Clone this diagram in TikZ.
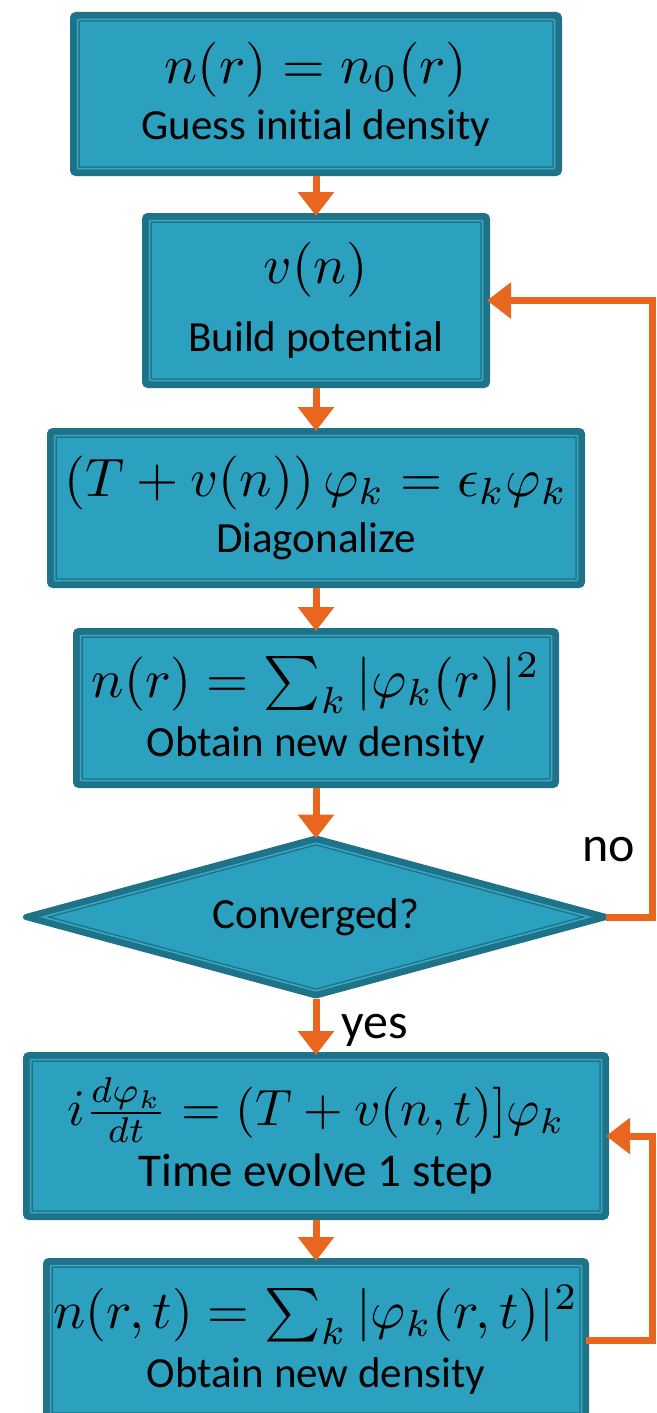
\documentclass[tikz,border=0pt]{standalone}
\usepackage{graphicx}
\usepackage{fontspec}
\setmainfont{Carlito}[Ligatures=NoCommon]
\usepackage{tikz}
\usetikzlibrary{positioning,arrows.meta,shapes.geometric}
\definecolor{boxfill}{HTML}{2CA1BF}
\definecolor{edge}{HTML}{1F7389}
\definecolor{ringline}{HTML}{3AA9C6}
\definecolor{flow}{HTML}{E9661E}
\newcommand{\eqn}[2][5.4]{\scalebox{#1}{\normalsize$#2$}}

\begin{document}
\begin{tikzpicture}[
    x=1pt, y=-1pt,
    block/.style={draw=edge, line width=6pt, fill=boxfill, rounded corners=3pt, inner sep=0pt, outer sep=0pt, align=center,
        font=\fontsize{43}{50}\selectfont,
        path picture={\draw[draw=edge, line width=1.5pt, double=ringline, double distance=1.5pt, rounded corners=1pt]
            ([shift={(4.5pt,-4.5pt)}]path picture bounding box.north west) rectangle
            ([shift={(-4.5pt,4.5pt)}]path picture bounding box.south east);}},
    decision/.style={diamond, aspect=3.7, draw=edge, line width=6pt, line join=round, fill=boxfill, inner sep=0pt, outer sep=0pt,
        minimum width=580pt, minimum height=157pt, font=\fontsize{43}{50}\selectfont,
        path picture={\draw[draw=edge, line width=1.5pt, double=ringline, double distance=1.5pt, line join=round]
            ([xshift=16.8pt]path picture bounding box.west) -- ([yshift=-4.7pt]path picture bounding box.north) --
            ([xshift=-16.8pt]path picture bounding box.east) -- ([yshift=4.7pt]path picture bounding box.south) -- cycle;}},
    arr/.style={draw=flow, line width=7pt, -{Triangle[width=35pt, length=24pt]}},
    lbl/.style={font=\fontsize{50}{60}\selectfont, inner sep=0pt}
]
    \useasboundingbox (0,0) rectangle (656,1413);

    \node[block, minimum width=486pt, minimum height=158pt] (guess) at (316,94) {\eqn[5.5]{n(r)=n_0(r)}\\[6pt]Guess initial density};
    \node[block, below=43pt of guess, minimum width=342pt, minimum height=169pt] (build) {\eqn[5.5]{v(n)}\\[18pt]Build potential};
    \node[block, below=46pt of build, minimum width=532pt, minimum height=154pt] (diag) {\eqn{\left(T+v(n)\right)\varphi_k=\epsilon_k\varphi_k}\\[6pt]Diagonalize};
    \node[block, below=46pt of diag, minimum width=480pt, minimum height=154pt] (dens) {\eqn{n(r)=\sum_k|\varphi_k(r)|^2}\\[9pt]Obtain new density};
    \node[decision, below=53.5pt of dens] (conv) {Converged?};
    \node[block, below=59.5pt of conv, minimum width=580pt, minimum height=162pt] (evolve) {\eqn[5.1]{i\frac{d\varphi_k}{dt}=(T+v(n,t)]\varphi_k}\\[10pt]{\fontsize{47}{52}\selectfont Time evolve 1 step}};
    \node[block, below=44pt of evolve, minimum width=540pt, minimum height=158pt] (newdens) {\eqn[5.35]{n(r,t)=\sum_k|\varphi_k(r,t)|^2}\\[9pt]Obtain new density};

    \coordinate (rail) at (652,0);
    \coordinate (noturn) at (conv.east -| rail);
    \node[lbl, above left=55pt and 17pt of noturn] (nolbl) {no};

    \draw[arr, shorten <=3pt] (guess) -- (build);
    \draw[arr, shorten <=3pt] (build) -- (diag);
    \draw[arr, shorten <=3pt] (diag) -- (dens);
    \draw[arr, shorten <=3pt] (dens) -- (conv);
    \draw[arr, shorten <=3pt] (conv) -- node[lbl, pos=0.58, right=22pt] (yeslbl) {yes} (evolve);
    \draw[arr, shorten <=3pt] (evolve) -- (newdens);
    \draw[arr] (conv.east) -- (noturn) |- (build.east);
    \draw[arr] (newdens.east) -- (newdens.east -| rail) |- (evolve.east);
\end{tikzpicture}
\end{document}
